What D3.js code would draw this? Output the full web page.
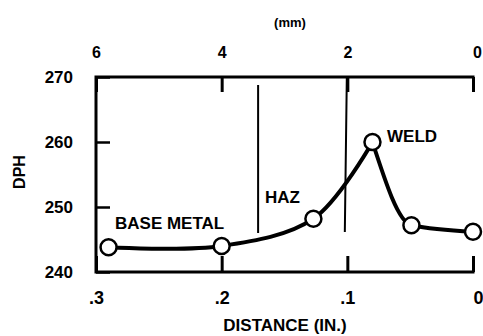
<!DOCTYPE html>
<html>
<head>
<meta charset="utf-8">
<script src="https://cdn.jsdelivr.net/npm/d3@7"></script>
<style>
  html, body { margin: 0; padding: 0; background: #fff; }
  svg { display: block; }
  text { font-family: "Liberation Sans", Arial, sans-serif; font-weight: bold; fill: #000; }
</style>
</head>
<body>
<script>
// Hardness traverse across the weld
const distanceIn = [0.29, 0.2, 0.127, 0.08, 0.049, 0.0];
const hardnessDPH = [243.8, 244.0, 248.2, 260.0, 247.2, 246.2];

// Axis ticks
const inchTicks = [0.3, 0.2, 0.1, 0];
const inchTickLabels = [".3", ".2", ".1", "0"];
const mmTicks = [6, 4, 2, 0];
const dphTicks = [240, 250, 260, 270];

// Zone boundaries (inches) and zone labels
const zoneBounds = [0.171, 0.102];
const zoneNames = ["BASE METAL", "HAZ", "WELD"];

const W = 483, H = 336;
const svg = d3.select("body").append("svg").attr("width", W).attr("height", H);

const x = d3.scaleLinear().domain([0.3, 0]).range([96, 473]);
const xmm = d3.scaleLinear().domain([6, 0]).range([96, 473]);
const y = d3.scaleLinear().domain([240, 270]).range([272, 77]);

const x0 = x(0.3), x1 = x(0), yTop = y(270), yBot = y(240);

// axes: inward-pointing ticks, labels outside the frame
function styleAxis(g, size) {
  g.select(".domain").remove();
  g.selectAll(".tick line").attr("stroke", "#000").attr("stroke-width", 3);
  g.selectAll(".tick text").attr("fill", "#000").attr("font-size", size)
    .attr("font-family", "'Liberation Sans', Arial, sans-serif").attr("font-weight", "bold");
}

svg.append("g").attr("transform", `translate(0,${yTop})`)
  .call(d3.axisTop(xmm).tickValues(mmTicks).tickFormat(d3.format("d"))
    .tickSizeInner(-15).tickSizeOuter(0).tickPadding(19))
  .call(g => styleAxis(g, 16))
  .call(g => g.selectAll(".tick").filter(d => d === 0).select("text").attr("x", 4));

svg.append("g").attr("transform", `translate(0,${yBot})`)
  .call(d3.axisBottom(x).tickValues(inchTicks).tickFormat((d, i) => inchTickLabels[i])
    .tickSizeInner(-16).tickSizeOuter(0).tickPadding(19))
  .call(g => styleAxis(g, 18))
  .call(g => g.selectAll(".tick").filter(d => d === 0).select("text").attr("x", 5));

svg.append("g").attr("transform", `translate(${x0},0)`)
  .call(d3.axisLeft(y).tickValues(dphTicks).tickFormat(d3.format("d"))
    .tickSizeInner(-14).tickSizeOuter(0).tickPadding(23))
  .call(g => styleAxis(g, 17))
  .call(g => g.selectAll(".tick line").attr("stroke-width", 2.5));

// frame: top edge, left edge, bottom edge
const fp = d3.path();
fp.moveTo(x1, yTop); fp.lineTo(x0, yTop); fp.lineTo(x0, yBot); fp.lineTo(x1, yBot);
svg.append("path").attr("d", fp.toString())
  .attr("fill", "none").attr("stroke", "#000").attr("stroke-width", 3)
  .attr("stroke-linecap", "square");

// zone boundary lines
const zp = d3.path();
zp.moveTo(x(zoneBounds[0]), 85); zp.lineTo(x(zoneBounds[0]), 233);
zp.moveTo(x(zoneBounds[1]) + 2, yTop); zp.lineTo(x(zoneBounds[1]), 232);
svg.append("path").attr("d", zp.toString())
  .attr("fill", "none").attr("stroke", "#000").attr("stroke-width", 2);

// axis titles
svg.append("text").attr("x", 290).attr("y", 22).attr("dy", "0.36em")
  .attr("text-anchor", "middle").attr("font-size", 13).text("(mm)");
svg.append("text").attr("x", 285).attr("y", 325).attr("dy", "0.36em")
  .attr("text-anchor", "middle").attr("font-size", 17).text("DISTANCE (IN.)");
svg.append("text").attr("transform", "translate(19,172) rotate(-90)").attr("dy", "0.36em")
  .attr("text-anchor", "middle").attr("font-size", 16).text("DPH");

// zone labels
svg.append("text").attr("x", 115).attr("y", 229).attr("font-size", 17).text(zoneNames[0]);
svg.append("text").attr("x", 265).attr("y", 203).attr("font-size", 17).text(zoneNames[1]);
svg.append("text").attr("x", 387).attr("y", 142).attr("font-size", 17).text(zoneNames[2]);

// hardness curve: rising branch up to the peak, falling branch after it
const pts = distanceIn.map((d, i) => [d, hardnessDPH[i]]);
const peak = d3.maxIndex(hardnessDPH);
const rising = d3.line().x(d => x(d[0])).y(d => y(d[1])).curve(d3.curveCatmullRom.alpha(0.5));
const falling = d3.line().x(d => x(d[0])).y(d => y(d[1])).curve(d3.curveMonotoneX);
svg.append("path").datum(pts.slice(0, peak + 1)).attr("d", rising)
  .attr("fill", "none").attr("stroke", "#000").attr("stroke-width", 4).attr("stroke-linecap", "round");
svg.append("path").datum(pts.slice(peak)).attr("d", falling)
  .attr("fill", "none").attr("stroke", "#000").attr("stroke-width", 4).attr("stroke-linecap", "round");

svg.append("g").selectAll("circle").data(pts).join("circle")
  .attr("cx", d => x(d[0])).attr("cy", d => y(d[1])).attr("r", 8)
  .attr("fill", "#fff").attr("stroke", "#000").attr("stroke-width", 2.5);
</script>
</body>
</html>
